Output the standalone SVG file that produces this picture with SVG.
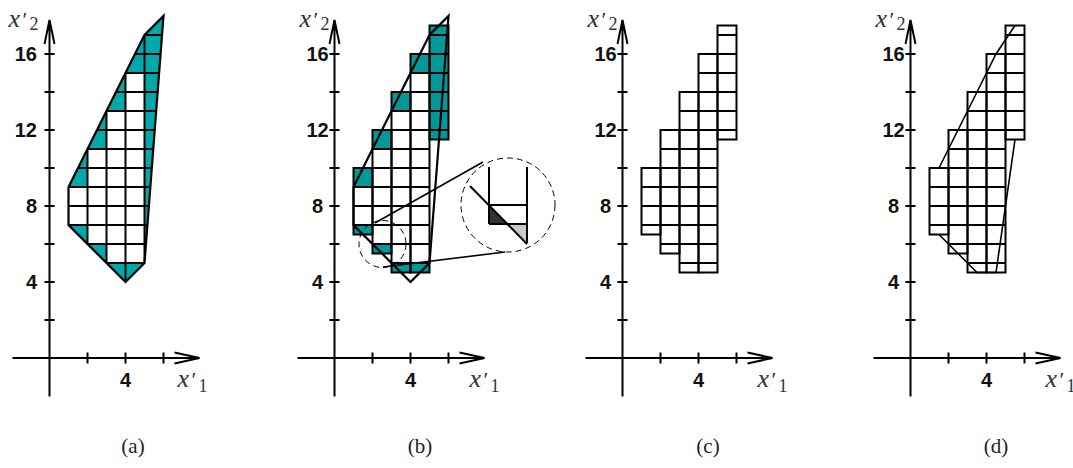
<svg xmlns="http://www.w3.org/2000/svg" xmlns:xlink="http://www.w3.org/1999/xlink" width="1073" height="468" viewBox="0 0 1073 468">
<style>
.ax{stroke:#000;stroke-width:2;fill:none}
.g{stroke:#000;stroke-width:2;fill:none}
.ol{stroke:#000;stroke-width:2.2;fill:none;stroke-linejoin:miter}
.thin{stroke:#000;stroke-width:1.6;fill:none}
.num{font-family:"Liberation Sans",Arial,sans-serif;font-weight:bold;font-size:20px;fill:#111}
.var{font-family:"Liberation Serif","Times New Roman",serif;fill:#333}
.cap{font-family:"Liberation Serif","Times New Roman",serif;font-size:21px;fill:#222;text-anchor:middle}
.dash{stroke:#000;stroke-width:1;fill:none;stroke-dasharray:6 4}
.ta{fill:#00a9a9}
.tb{fill:#009898}
</style>
<defs>
<path id="axpath" class="ax" d="M0 38.5V-338 M-37 0H150 M-5 -314L0 -338L5 -314 M125 -5.5L150 0L125 5.5 M-5 -38h10 M-5 -76h10 M-5 -114h10 M-5 -152h10 M-5 -190h10 M-5 -228h10 M-5 -266h10 M-5 -304h10 M38 -5.5v11 M76 -5.5v11 M114 -5.5v11"/>
<g id="labels">
<text class="num" text-anchor="middle" x="-17" y="-297">16</text>
<text class="num" text-anchor="middle" x="-17" y="-221">12</text>
<text class="num" text-anchor="middle" x="-17" y="-145">8</text>
<text class="num" text-anchor="middle" x="-17" y="-69">4</text>
<text class="num" text-anchor="middle" x="76" y="29">4</text>
<text class="var" y="-331"><tspan x="-35" font-style="italic" font-size="26">x</tspan><tspan x="-21" font-size="22">′</tspan><tspan x="-14" y="-328" font-size="18">2</tspan></text>
<text class="var" y="29"><tspan x="135" font-style="italic" font-size="26">x</tspan><tspan x="149" font-size="22">′</tspan><tspan x="156" y="33.5" font-size="18">1</tspan></text>
</g>
<g id="cells" class="g">
<rect x="19" y="-190" width="19" height="66.5"/>
<rect x="38" y="-228" width="19" height="123.5"/>
<rect x="57" y="-266" width="19" height="180.5"/>
<rect x="76" y="-304" width="19" height="218.5"/>
<rect x="95" y="-332.5" width="19" height="114"/>
<path d="M57 -95H95 M38 -114H95 M19 -133H95 M19 -152H95 M19 -171H95 M19 -190H95 M38 -209H95 M38 -228H114 M57 -247H114 M57 -266H114 M76 -285H114 M76 -304H114 M95 -323H114"/>
</g>
<clipPath id="clipA"><polygon points="19,-133 19,-171 95,-323 114,-342 95,-95 76,-76"/></clipPath>
</defs>

<g id="panel-a" transform="translate(49.5,358)">
<polygon class="ta" points="19,-133 19,-171 95,-323 114,-342 95,-95 76,-76"/>
<g fill="#fff">
<rect x="19" y="-171" width="19" height="38"/>
<rect x="38" y="-209" width="19" height="95"/>
<rect x="57" y="-247" width="19" height="152"/>
<rect x="76" y="-285" width="19" height="190"/>
</g>
<path class="g" clip-path="url(#clipA)" d="M38 -400V0 M57 -400V0 M76 -400V0 M95 -400V0 M0 -95H130 M0 -114H130 M0 -133H130 M0 -152H130 M0 -171H130 M0 -190H130 M0 -209H130 M0 -228H130 M0 -247H130 M0 -266H130 M0 -285H130 M0 -304H130 M0 -323H130"/>
<polygon class="ol" points="19,-133 19,-171 95,-323 114,-342 95,-95 76,-76"/>
<use href="#axpath"/>
<text class="num" text-anchor="end" x="-12.5" y="-297">16</text>
<text class="num" text-anchor="end" x="-12.5" y="-221">12</text>
<text class="num" text-anchor="end" x="-12.5" y="-145">8</text>
<text class="num" text-anchor="end" x="-12.5" y="-69">4</text>
<text class="num" text-anchor="middle" x="76" y="29">4</text>
<text class="var" y="-331"><tspan x="-41" font-style="italic" font-size="26">x</tspan><tspan x="-27" font-size="22">′</tspan><tspan x="-20" y="-328" font-size="18">2</tspan></text>
<text class="var" y="29"><tspan x="128" font-style="italic" font-size="26">x</tspan><tspan x="142" font-size="22">′</tspan><tspan x="149" y="33.5" font-size="18">1</tspan></text>
</g>

<g id="panel-b" transform="translate(334.5,358)">
<g class="tb">
<rect x="19" y="-133" width="19" height="9.5"/>
<rect x="19" y="-190" width="19" height="19"/>
<rect x="38" y="-114" width="19" height="9.5"/>
<rect x="38" y="-228" width="19" height="19"/>
<rect x="57" y="-95" width="19" height="9.5"/>
<rect x="57" y="-266" width="19" height="19"/>
<rect x="76" y="-95" width="19" height="9.5"/>
<rect x="76" y="-304" width="19" height="19"/>
<rect x="95" y="-332.5" width="19" height="114"/>
</g>
<use href="#cells"/>
<polygon class="ol" points="19,-133 19,-171 95,-323 114,-342 95,-95 76,-76"/>
<circle class="dash" cx="48" cy="-114" r="23.5"/>
<use href="#axpath"/>
<use href="#labels"/>
</g>

<g id="magnifier">
<line class="thin" x1="375" y1="223" x2="483" y2="162" stroke-width="1.2"/>
<line class="thin" x1="383" y1="267" x2="505" y2="252" stroke-width="1.2"/>
<circle class="dash" cx="508" cy="205" r="47" fill="#fff"/>
<polygon points="489,205 489,224 508,224" fill="#333"/>
<polygon points="508,224 527,224 527,243" fill="#c8c8c8"/>
<path class="g" d="M489 167V224 M527 167V243 M489 205H527 M489 224H527"/>
<line class="g" x1="470" y1="186" x2="527" y2="244"/>
</g>

<g id="panel-c" transform="translate(622.5,358)">
<use href="#cells"/>
<use href="#axpath"/>
<use href="#labels"/>
</g>

<g id="panel-d" transform="translate(910.5,358)">
<use href="#cells"/>
<polyline class="thin" points="28.5,-190 47.5,-228 66.5,-266 85.5,-304 104.5,-332.5"/>
<polyline class="thin" points="28.5,-123.5 47.5,-104.5 66.5,-85.5 85.5,-85.5 104.5,-218.5"/>
<use href="#axpath"/>
<use href="#labels"/>
</g>

<g id="captions">
<text class="cap" x="133" y="453">(a)</text>
<text class="cap" x="420" y="453">(b)</text>
<text class="cap" x="708" y="453">(c)</text>
<text class="cap" x="996" y="453">(d)</text>
</g>
</svg>
